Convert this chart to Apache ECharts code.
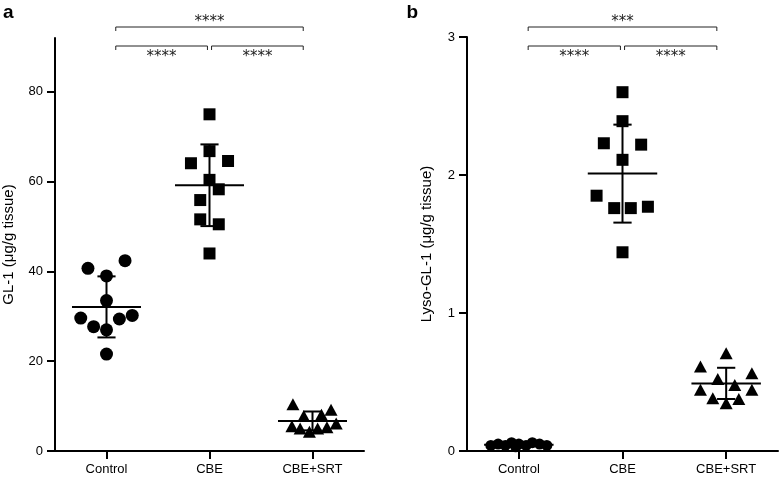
<!DOCTYPE html>
<html><head><meta charset="utf-8">
<script src="https://cdn.jsdelivr.net/npm/echarts@6/dist/echarts.min.js"></script>
<style>html,body{margin:0;padding:0;background:#fff}#c{width:780px;height:478px}</style>
</head><body><div id="c"></div>
<script>
// ---------- data ----------
const categories = ['Control', 'CBE', 'CBE+SRT'];

// Panel a: GL-1 (µg/g tissue)
const aControl    = [40.7, 42.4, 39.0, 33.5, 29.6, 27.7, 27.0, 29.4, 30.2, 21.6];
const aControlJit = [-0.18, 0.18, 0, 0, -0.25, -0.125, 0, 0.125, 0.25, 0];
const aCBE        = [75.0, 66.8, 64.1, 64.6, 60.4, 58.3, 55.9, 51.6, 50.5, 44.0];
const aCBEJit     = [0, 0, -0.18, 0.18, 0, 0.09, -0.09, -0.09, 0.09, 0];
const aSRT        = [10.4, 9.2, 7.8, 8.1, 5.5, 5.0, 4.3, 5.0, 5.3, 6.1];
const aSRTJit     = [-0.19, 0.18, -0.085, 0.087, -0.2, -0.12, -0.03, 0.05, 0.14, 0.23];
const aMean = [32.1, 59.2, 6.7];
const aSD   = [6.8, 9.1, 2.1];
const aTicks = [0, 20, 40, 60, 80];
const aComparisons = [[0, 2, '****'], [0, 1, '****'], [1, 2, '****']];

// Panel b: Lyso-GL-1 (µg/g tissue)
const bControl    = [0.04, 0.05, 0.04, 0.06, 0.05, 0.04, 0.06, 0.05, 0.04, 0.03];
const bControlJit = [-0.27, -0.2, -0.13, -0.07, 0, 0.07, 0.13, 0.2, 0.27, -0.03];
const bCBE        = [2.60, 2.39, 2.23, 2.22, 2.11, 1.85, 1.76, 1.76, 1.77, 1.44];
const bCBEJit     = [0, 0, -0.18, 0.18, 0, -0.25, -0.08, 0.08, 0.245, 0];
const bSRT        = [0.708, 0.612, 0.564, 0.522, 0.479, 0.443, 0.443, 0.382, 0.377, 0.346];
const bSRTJit     = [0, -0.248, 0.248, -0.081, 0.083, -0.248, 0.248, -0.129, 0.122, 0];
const bMean = [0.045, 2.01, 0.49];
const bSD   = [0.01, 0.355, 0.113];
const bTicks = [0, 1, 2, 3];
const bComparisons = [[0, 2, '***'], [0, 1, '****'], [1, 2, '****']];

// ---------- helpers ----------
const FONT = 'Liberation Sans, Arial, sans-serif';
function pts(vals, jit, idx) { return vals.map((v, i) => [idx + jit[i], v]); }

function errRender(params, api) {
  const x = api.value(0), m = api.value(1), s = api.value(2);
  const c = api.coord([x, m]);
  const hi = api.coord([x, m + s]);
  const lo = api.coord([x, m - s]);
  const unit = api.size([1, 0])[0];
  const hm = unit * 0.335, hc = unit * 0.088;
  const st = { stroke: '#000', lineWidth: 2 };
  return { type: 'group', children: [
    { type: 'line', shape: { x1: c[0] - hm, y1: c[1], x2: c[0] + hm, y2: c[1] }, style: st },
    { type: 'line', shape: { x1: c[0], y1: hi[1], x2: c[0], y2: lo[1] }, style: st },
    { type: 'line', shape: { x1: c[0] - hc, y1: hi[1], x2: c[0] + hc, y2: hi[1] }, style: st },
    { type: 'line', shape: { x1: c[0] - hc, y1: lo[1], x2: c[0] + hc, y2: lo[1] }, style: st }
  ]};
}

function makeBracketRender(comps, offTop, offLow) {
  return function (params, api) {
    const comp = comps[params.dataIndex];
    const i1 = comp[0], i2 = comp[1];
    const in1 = (i1 === 1) ? 0.02 : 0.09;
    const in2 = (i2 === 1) ? 0.02 : 0.09;
    const cs = params.coordSys;
    const x1 = api.coord([i1 + in1, 0])[0];
    const x2 = api.coord([i2 - in2, 0])[0];
    const top = params.dataIndex === 0;
    const y = cs.y + (top ? offTop : offLow);
    const st = { stroke: '#222', lineWidth: 1, fill: null };
    const ty = top ? y - 5 : y + 11;
    return { type: 'group', children: [
      { type: 'polyline', shape: { points: [[x1, y + 4], [x1, y], [x2, y], [x2, y + 4]] }, style: st },
      { type: 'text', style: { text: comp[2], x: (x1 + x2) / 2, y: ty, align: 'center', verticalAlign: 'middle',
        font: '15px DejaVu Sans', fill: '#222' } }
    ]};
  };
}

function yAxisCfg(grid, max, ticks, name, gap) {
  return {
    gridIndex: grid, type: 'value', min: 0, max: max,
    name: name, nameLocation: 'middle', nameGap: gap,
    nameTextStyle: { fontFamily: FONT, fontSize: 15, color: '#000' },
    axisLine: { show: true, onZero: false, lineStyle: { color: '#000', width: 2 } },
    axisTick: { show: true, length: 8, customValues: ticks, lineStyle: { color: '#000', width: 2 } },
    axisLabel: { customValues: ticks, margin: 12, fontFamily: FONT, fontSize: 13, color: '#000' },
    splitLine: { show: false }
  };
}
function xCatCfg(grid) {
  return {
    gridIndex: grid, type: 'category', data: categories, boundaryGap: true,
    axisLine: { show: true, onZero: false, lineStyle: { color: '#000', width: 2 } },
    axisTick: { show: true, alignWithLabel: true, length: 8, lineStyle: { color: '#000', width: 2 } },
    axisLabel: { margin: 12, fontFamily: FONT, fontSize: 13, color: '#000' },
    splitLine: { show: false }
  };
}
function xValCfg(grid) {
  return { gridIndex: grid, type: 'value', min: -0.5, max: 2.5, show: false,
    axisLine: { onZero: false }, splitLine: { show: false } };
}

function scatter(xi, yi, data, symbol, size) {
  return { type: 'scatter', xAxisIndex: xi, yAxisIndex: yi, data: data, symbol: symbol, symbolSize: size,
    itemStyle: { color: '#000', opacity: 1 }, silent: true, z: 2 };
}

const chart = echarts.init(document.getElementById('c'), null, { renderer: 'canvas' });
chart.setOption({
  animation: false,
  backgroundColor: '#fff',
  grid: [
    { left: 55, top: 38, width: 309, height: 413 },
    { left: 467, top: 37, width: 311, height: 414 }
  ],
  xAxis: [xCatCfg(0), xValCfg(0), xCatCfg(1), xValCfg(1)],
  yAxis: [
    yAxisCfg(0, 92, aTicks, 'GL-1 (μg/g tissue)', 39),
    yAxisCfg(1, 3, bTicks, 'Lyso-GL-1 (μg/g tissue)', 33)
  ],
  graphic: [
    { type: 'text', style: { text: 'a', x: 3, y: 12.6, verticalAlign: 'middle', font: 'bold 19px Liberation Sans', fill: '#000' } },
    { type: 'text', style: { text: 'b', x: 406.5, y: 12.6, verticalAlign: 'middle', font: 'bold 19px Liberation Sans', fill: '#000' } }
  ],
  series: [
    scatter(1, 0, pts(aControl, aControlJit, 0), 'circle', 13),
    scatter(1, 0, pts(aCBE, aCBEJit, 1), 'rect', 12),
    scatter(1, 0, pts(aSRT, aSRTJit, 2), 'triangle', [13, 12]),
    { type: 'custom', xAxisIndex: 1, yAxisIndex: 0, renderItem: errRender, z: 3, silent: true,
      data: aMean.map((m, i) => [i, m, aSD[i]]) },
    { type: 'custom', xAxisIndex: 1, yAxisIndex: 0, renderItem: makeBracketRender(aComparisons, -11, 8), clip: false, silent: true,
      data: aComparisons.map((c, i) => [c[0], c[1], i]) },

    scatter(3, 1, pts(bControl, bControlJit, 0), 'circle', 11),
    scatter(3, 1, pts(bCBE, bCBEJit, 1), 'rect', 12),
    scatter(3, 1, pts(bSRT, bSRTJit, 2), 'triangle', [13, 12]),
    { type: 'custom', xAxisIndex: 3, yAxisIndex: 1, renderItem: errRender, z: 3, silent: true,
      data: bMean.map((m, i) => [i, m, bSD[i]]) },
    { type: 'custom', xAxisIndex: 3, yAxisIndex: 1, renderItem: makeBracketRender(bComparisons, -10, 9), clip: false, silent: true,
      data: bComparisons.map((c, i) => [c[0], c[1], i]) }
  ]
});
</script>
</body></html>
